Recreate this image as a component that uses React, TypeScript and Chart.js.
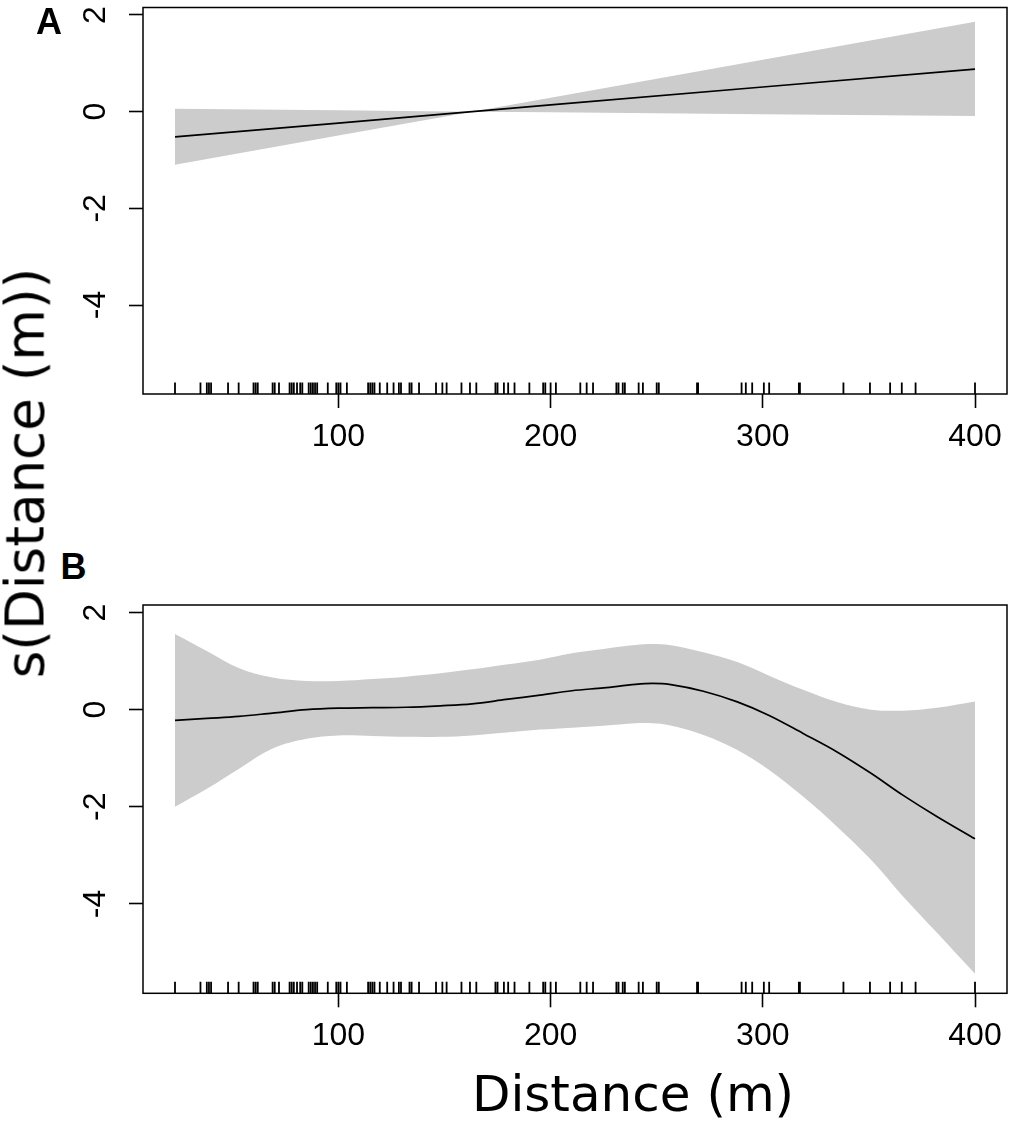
import React, { useEffect, useRef } from 'react';
import { Chart, registerables } from 'chart.js';

Chart.register(...registerables);

// rug: observed distances (m), same in both panels
const rugDistances = [
  23, 35, 38, 39, 40, 48, 53, 60, 61, 62, 69, 70, 72, 77, 78, 79, 80.5, 82, 83,
  86, 87, 88, 89, 90, 95, 99, 100, 101, 104, 114, 115, 116, 117, 119.5, 123, 126,
  128.5, 129.5, 133.5, 134.5, 138, 146, 149, 151, 158, 162, 165, 174, 175, 178,
  180, 183, 190, 196.5, 197.5, 200, 202.5, 214, 217, 220, 231, 232, 234, 235,
  241.5, 243.5, 250, 251, 269, 269.5, 290, 292, 295, 300.5, 303, 317, 317.5, 338,
  350.5, 360, 365.5, 372, 400,
];

// panel A: linear smooth
const distA = [23, 100, 163, 200, 300, 400];
const fitA = [-0.52, -0.235, 0.0, 0.14, 0.51, 0.88];
const upperA = [0.06, 0.027, 0.0, 0.29, 1.075, 1.86];
const lowerA = [-1.1, -0.495, 0.0, -0.014, -0.052, -0.09];

// panel B: non-linear smooth
const distB = [23, 38, 53, 69, 85, 100, 116, 132, 148, 163, 179, 195, 210, 225, 240, 248, 256, 272, 288, 303, 319, 335, 351, 366, 382, 400];
const fitB = [-0.22, -0.18, -0.14, -0.07, 0.0, 0.03, 0.04, 0.05, 0.08, 0.12, 0.21, 0.3, 0.39, 0.45, 0.52, 0.54, 0.52, 0.38, 0.16, -0.12, -0.49, -0.87, -1.31, -1.76, -2.2, -2.66];
const upperB = [1.56, 1.21, 0.86, 0.66, 0.59, 0.59, 0.63, 0.68, 0.75, 0.83, 0.93, 1.03, 1.16, 1.25, 1.33, 1.35, 1.33, 1.18, 0.98, 0.7, 0.41, 0.16, 0.0, -0.02, 0.04, 0.17];
const lowerB = [-2.0, -1.63, -1.22, -0.8, -0.6, -0.53, -0.54, -0.56, -0.56, -0.53, -0.47, -0.41, -0.37, -0.33, -0.28, -0.28, -0.32, -0.52, -0.83, -1.24, -1.79, -2.41, -3.09, -3.84, -4.59, -5.44];

const xTicks = [100, 200, 300, 400];
const yTicks = [-4, -2, 0, 2];
const xRange = [7.92, 415.08];
const yRange = [-5.84, 2.155];

const tickFont = { family: "'Liberation Sans', Arial, sans-serif", size: 32 };

// box around the plot + rug along the bottom
const framePlugin = {
  id: 'frame',
  afterDatasetsDraw(chart: any) {
    const { ctx, chartArea: a, scales } = chart;
    ctx.save();
    ctx.strokeStyle = '#000';
    ctx.lineWidth = 1.8;
    const rugLen = (a.bottom - a.top) * 0.03;
    ctx.beginPath();
    rugDistances.forEach((d) => {
      const px = scales.x.getPixelForValue(d);
      ctx.moveTo(px, a.bottom);
      ctx.lineTo(px, a.bottom - rugLen);
    });
    ctx.stroke();
    ctx.lineWidth = 1.5;
    ctx.strokeRect(a.left, a.top, a.right - a.left, a.bottom - a.top);
    ctx.restore();
  },
};

interface PanelProps {
  top: number;
  height: number;
  padTop: number;
  axisH: number;
  tension: number;
  dist: number[];
  fit: number[];
  upper: number[];
  lower: number[];
}

function Panel({ top, height, padTop, axisH, tension, dist, fit, upper, lower }: PanelProps) {
  const chartRef = useRef<HTMLCanvasElement>(null);

  useEffect(() => {
    if (!chartRef.current) return;
    const pts = (ys: number[]) => dist.map((x, i) => ({ x, y: ys[i] }));
    const grid = {
      drawOnChartArea: false,
      drawTicks: true,
      tickLength: 14,
      tickWidth: 1.6,
      tickColor: '#000',
    };

    const myChart = new Chart(chartRef.current, {
      type: 'line',
      data: {
        datasets: [
          {
            data: pts(fit),
            borderColor: '#000',
            borderWidth: 1.7,
            pointRadius: 0,
            fill: false,
            tension,
          },
          {
            data: pts(upper),
            borderColor: 'rgba(0,0,0,0)',
            borderWidth: 0,
            backgroundColor: '#cccccc',
            pointRadius: 0,
            fill: '+1',
            tension,
          },
          {
            data: pts(lower),
            borderColor: 'rgba(0,0,0,0)',
            borderWidth: 0,
            pointRadius: 0,
            fill: false,
            tension,
          },
        ],
      },
      options: {
        responsive: false,
        animation: false,
        layout: { padding: { top: padTop, right: 3, left: 0, bottom: 0 } },
        plugins: { legend: { display: false }, tooltip: { enabled: false } },
        scales: {
          x: {
            type: 'linear',
            min: xRange[0],
            max: xRange[1],
            afterBuildTicks: (s: any) => {
              s.ticks = xTicks.map((v) => ({ value: v }));
            },
            afterFit: (s: any) => {
              s.height = axisH;
              s.paddingLeft = 0;
              s.paddingRight = 0;
            },
            grid,
            border: { display: false },
            ticks: { font: tickFont, color: '#000', padding: 10, maxRotation: 0 },
          },
          y: {
            type: 'linear',
            min: yRange[0],
            max: yRange[1],
            afterBuildTicks: (s: any) => {
              s.ticks = yTicks.map((v) => ({ value: v }));
            },
            afterFit: (s: any) => {
              s.width = 143;
              s.paddingTop = 0;
              s.paddingBottom = 0;
            },
            grid,
            border: { display: false },
            ticks: {
              font: tickFont,
              color: '#000',
              padding: 19,
              minRotation: 90,
              maxRotation: 90,
              crossAlign: 'center',
            },
          },
        },
      },
      plugins: [framePlugin],
    } as any);

    return () => {
      myChart.destroy();
    };
  }, []);

  return (
    <canvas
      ref={chartRef}
      width={1010}
      height={height}
      style={{ position: 'absolute', left: 0, top, width: 1010, height }}
    />
  );
}

const titleFont = "'DejaVu Sans', Verdana, sans-serif";
const letterStyle: React.CSSProperties = {
  position: 'absolute',
  fontFamily: "'Liberation Sans', Arial, sans-serif",
  fontWeight: 'bold',
  fontSize: 36,
  lineHeight: '36px',
};

export default function App() {
  return (
    <div
      style={{
        position: 'absolute',
        left: 0,
        top: 0,
        width: 1010,
        height: 1130,
        background: '#fff',
        overflow: 'hidden',
      }}
    >
      <Panel top={0} height={450} padTop={7.5} axisH={56} tension={0} dist={distA} fit={fitA} upper={upperA} lower={lowerA} />
      <Panel top={597} height={450} padTop={8} axisH={53.7} tension={0.35} dist={distB} fit={fitB} upper={upperB} lower={lowerB} />
      <div style={{ ...letterStyle, left: 36, top: 3.5 }}>A</div>
      <div style={{ ...letterStyle, left: 60.5, top: 548.5 }}>B</div>
      <div
        style={{
          position: 'absolute',
          left: 24.5,
          top: 473,
          transform: 'translate(-50%, -50%) rotate(-90deg)',
          fontFamily: titleFont,
          fontSize: 53,
          lineHeight: '53px',
          whiteSpace: 'nowrap',
        }}
      >
        s(Distance (m))
      </div>
      <div
        style={{
          position: 'absolute',
          left: 633,
          top: 1069,
          transform: 'translateX(-50%)',
          fontFamily: titleFont,
          fontSize: 50,
          lineHeight: '50px',
          whiteSpace: 'nowrap',
        }}
      >
        Distance (m)
      </div>
    </div>
  );
}
